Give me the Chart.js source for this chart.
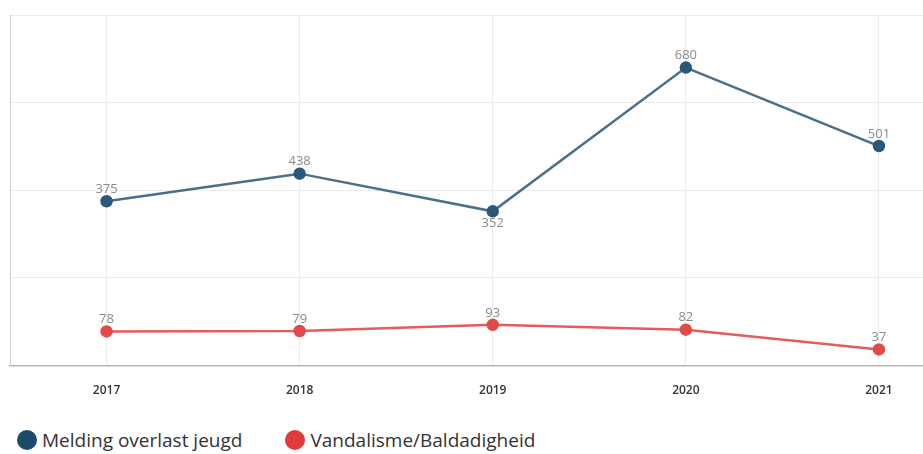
<!DOCTYPE html>
<html>
<head>
<meta charset="utf-8">
<script src="https://cdn.jsdelivr.net/npm/chart.js@4"></script>
<style>
  html, body { margin: 0; padding: 0; background: #fff; overflow: hidden; }
  #wrap { position: relative; width: 983px; height: 421px; }
  #legend { position: absolute; left: 17px; top: 427px; font-family: "Open Sans", "Noto Sans", sans-serif; font-size: 19px; color: #333; display: flex; gap: 43px; }
  #legend span.item { display: flex; align-items: center; }
  #legend span.dot { display: inline-block; width: 20px; height: 20px; border-radius: 50%; margin-right: 5px; }
</style>
</head>
<body>
<div id="wrap"><canvas id="chart"></canvas></div>
<div id="legend"></div>
<script>
// Jaren en meldingen
const years = ["2017", "2018", "2019", "2020", "2021"];
const overlastJeugd = [375, 438, 352, 680, 501];
const vandalisme = [78, 79, 93, 82, 37];
const yTicks = [0, 200, 400, 600, 800];

const series = [
  { label: "Melding overlast jeugd", data: overlastJeugd, line: "#4b6f8a", point: "#2b587a", legend: "#1b4a6b" },
  { label: "Vandalisme/Baldadigheid", data: vandalisme, line: "#e35d5d", point: "#e04a4a", legend: "#e03a3a" }
];

// Waardes boven (of onder bij een dal) de punten tekenen
const valueLabels = {
  id: "valueLabels",
  afterDatasetsDraw(chart) {
    const ctx = chart.ctx;
    ctx.save();
    ctx.font = "13px 'Open Sans', 'Noto Sans', sans-serif";
    ctx.fillStyle = "#8a8a8a";
    ctx.textAlign = "center";
    ctx.textBaseline = "middle";
    chart.data.datasets.forEach((ds, i) => {
      chart.getDatasetMeta(i).data.forEach((pt, j) => {
        const v = ds.data[j];
        const prev = ds.data[j - 1], next = ds.data[j + 1];
        const below = prev !== undefined && next !== undefined && v < prev && v < next;
        ctx.fillText(String(v), pt.x, below ? pt.y + 12 : pt.y - 12);
      });
    });
    ctx.restore();
  }
};

const ctx = document.getElementById("chart").getContext("2d");
new Chart(ctx, {
  type: "line",
  data: {
    labels: years,
    datasets: series.map(s => ({
      label: s.label,
      data: s.data,
      borderColor: s.line,
      backgroundColor: s.point,
      pointBackgroundColor: s.point,
      pointBorderColor: s.point,
      borderWidth: 2.5,
      pointRadius: 5,
      tension: 0
    }))
  },
  options: {
    responsive: true,
    maintainAspectRatio: false,
    animation: false,
    layout: { padding: { left: 10, top: 15, right: 0, bottom: 5 } },
    scales: {
      x: {
        offset: true,
        grid: { color: "#ececec", offset: false, drawTicks: false },
        border: { color: "#b5b5b5", width: 1.5 },
        ticks: {
          padding: 18,
          color: "#333",
          font: { family: "'Open Sans', 'Noto Sans', sans-serif", size: 12, weight: "600" }
        }
      },
      y: {
        min: yTicks[0],
        max: yTicks[yTicks.length - 1],
        afterBuildTicks(axis) { axis.ticks = yTicks.map(v => ({ value: v })); },
        grid: { color: "#ececec", drawTicks: false },
        border: { color: "#cfcfcf" },
        ticks: { display: false }
      }
    },
    plugins: {
      legend: { display: false },
      tooltip: { enabled: false }
    }
  },
  plugins: [valueLabels]
});

// Legenda onder de grafiek
const legend = document.getElementById("legend");
series.forEach(s => {
  const item = document.createElement("span");
  item.className = "item";
  item.innerHTML = `<span class="dot" style="background:${s.legend}"></span>${s.label}`;
  legend.appendChild(item);
});
</script>
</body>
</html>
